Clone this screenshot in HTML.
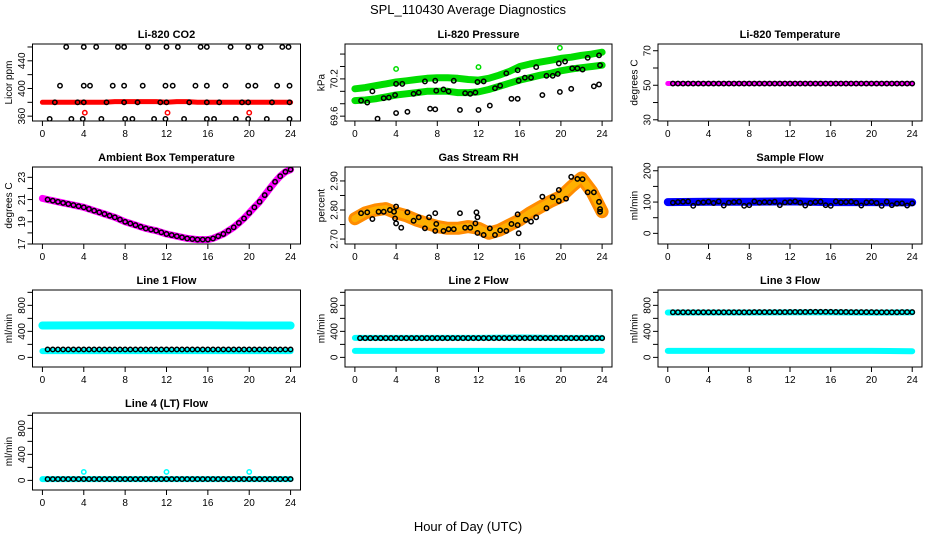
<!DOCTYPE html>
<html><head><meta charset="utf-8">
<style>
html,body{margin:0;padding:0;background:#fff;}
svg{display:block;font-family:"Liberation Sans",Arial,sans-serif;}
</style></head>
<body>
<svg id="chart" width="936" height="540" viewBox="0 0 936 540" xmlns="http://www.w3.org/2000/svg">
<rect x="0" y="0" width="936" height="540" fill="#fff"/>
<text x="468" y="14" text-anchor="middle" font-size="13">SPL_110430  Average Diagnostics</text>
<text x="468" y="531" text-anchor="middle" font-size="13">Hour of Day (UTC)</text>
</svg>
<script>
// ---------- data ----------
const xTicks=[0,4,8,12,16,20,24];
// CO2
const co2BandH=[0,1,2,3,4,5,6,7,8,9,10,11,12,13,14,15,16,17,18,19,20,21,22,23,24];
const co2BandV=[380,380,380,380,380,380,380,381,381,381,381,381,380,381,381,380,380,380,380,380,380,380,380,380,380];
const co2PtsH=[2.3,4.0,5.2,7.3,7.9,10.2,12.0,13.1,15.3,15.9,18.2,19.9,21.1,23.2,23.8,
 1.7,4.0,4.6,6.8,7.9,9.7,11.9,12.6,14.8,15.9,17.7,19.9,20.6,22.7,23.9,
 1.2,3.4,4.0,6.2,7.9,9.2,11.4,12.0,14.2,15.9,17.1,19.3,19.9,22.2,23.9,
 0.7,2.8,3.9,5.7,8.0,8.7,10.8,11.9,13.7,15.9,16.6,18.7,19.9,21.7,23.9];
const co2PtsV=[460,460,460,460,460,460,460,460,460,460,460,460,460,460,460,
 404,404,404,404,404,404,404,404,404,404,404,404,404,404,404,
 380,380,380,380,380,380,380,380,380,380,380,380,380,380,380,
 356,356,356,356,356,356,356,356,356,356,356,356,356,356,356];
const co2OutH=[4.1,12.1,20.0];
const co2OutV=[365,365,365];
// Pressure
const presBandH=[0,1,2,3,4,5,6,7,8,9,10,11,12,13,14,15,16,17,18,19,20,21,22,23,24];
const presUpper=[70.04,70.06,70.09,70.12,70.15,70.17,70.19,70.21,70.22,70.22,70.21,70.19,70.18,70.21,70.26,70.32,70.40,70.44,70.47,70.50,70.53,70.55,70.58,70.60,70.63];
const presLower=[69.85,69.86,69.88,69.91,69.94,69.96,69.98,70.00,70.00,70.00,69.98,69.98,69.99,70.03,70.08,70.13,70.18,70.22,70.26,70.29,70.33,70.36,70.38,70.40,70.42];
const presPtsH=[2.2,4.0,5.1,7.3,7.8,10.2,12.0,13.1,15.2,15.8,18.2,19.9,21.0,23.2,23.7,
 0.6,1.2,1.7,2.8,3.3,3.9,4.0,4.6,5.7,6.2,6.8,7.8,7.9,8.6,9.1,9.6,10.7,11.2,11.7,11.9,12.5,13.6,14.1,14.7,15.8,15.9,16.5,17.1,17.6,18.6,19.2,19.7,19.8,20.4,21.1,21.6,22.1,22.6,23.7,23.8];
const presPtsV=[69.56,69.65,69.67,69.72,69.71,69.70,69.70,69.77,69.88,69.88,69.94,69.99,70.04,70.08,70.11,
 69.85,69.82,70.00,69.89,69.90,69.94,70.12,70.12,69.96,69.98,70.16,70.17,70.01,70.03,70.00,70.17,69.97,69.96,69.98,70.15,70.16,70.05,70.09,70.29,70.34,70.17,70.22,70.22,70.39,70.25,70.25,70.28,70.45,70.48,70.37,70.37,70.35,70.54,70.58,70.42];
const presOutH=[4.0,12.0,19.9];
const presOutV=[70.36,70.39,70.70];
// Li-820 temperature
const tempBandH=[0,4,8,12,16,20,24];
const tempBandV=[51,51,51,51,51,51,51];
const tempPtsV=[51,51,51,51,51,51,51,51,51,51,51,51,51,51,51,51,51,51,51,51,51,51,51,51,51,51,51,51,51,51,51,51,51,51,51,51,51,51,51,51,51,51,51,51,51,51,51,51];
// Ambient box temperature
const ambV=[21.1,21.0,20.9,20.8,20.7,20.6,20.5,20.4,20.3,20.15,20.0,19.85,19.7,19.55,19.4,19.2,19.0,18.85,18.7,18.55,18.4,18.3,18.2,18.05,17.9,17.8,17.7,17.6,17.5,17.45,17.4,17.4,17.4,17.5,17.7,17.9,18.2,18.5,18.9,19.3,19.8,20.3,20.8,21.4,22.0,22.6,23.1,23.5,23.7];
// Gas stream RH
const rhBandH=[0,1,2,3,4,5,6,7,8,9,10,11,12,13,14,15,16,17,18,19,20,21,22,23,24];
const rhBandV=[2.77,2.79,2.80,2.805,2.79,2.78,2.765,2.754,2.743,2.737,2.737,2.743,2.737,2.72,2.73,2.748,2.766,2.79,2.81,2.83,2.846,2.88,2.91,2.863,2.794];
const rhPtsH=[0.6,1.2,1.7,2.3,2.8,3.4,3.8,4.0,3.9,4.0,4.5,5.1,5.7,6.2,6.8,7.2,7.8,7.9,7.8,8.6,9.1,9.6,10.2,10.7,11.2,11.7,11.8,11.9,11.9,12.5,13.1,13.6,14.1,14.7,15.2,15.8,15.8,15.9,16.6,17.1,17.6,18.2,18.6,19.2,19.8,19.8,20.5,21.0,21.6,22.1,22.6,23.2,23.7,23.8,23.8];
const rhPtsV=[2.789,2.792,2.769,2.794,2.794,2.80,2.794,2.812,2.771,2.754,2.739,2.792,2.763,2.775,2.737,2.775,2.789,2.752,2.728,2.728,2.734,2.734,2.789,2.739,2.739,2.754,2.792,2.775,2.721,2.714,2.737,2.714,2.730,2.728,2.752,2.785,2.748,2.720,2.766,2.760,2.775,2.846,2.806,2.844,2.869,2.831,2.839,2.914,2.907,2.906,2.861,2.861,2.828,2.803,2.794];
// Sample flow
const sfBandH=[0,4,8,12,16,20,24];
const sfBandV=[100,101,101,102,100,100,99];
const sfPtsV=[98,100,101,102,88,98,99,101,97,102,89,98,100,101,88,90,102,98,100,99,101,90,99,100,102,98,89,97,100,101,90,88,102,99,100,101,98,89,99,100,97,88,101,90,95,96,89,96];
// Line flows
const lfBandH=[0,4,8,12,16,20,24];
const l1Hi=[490,492,494,493,494,490,490];
const l1Lo=[97,97,97,97,97,97,97];
const l1Pts=[122,122,122,122,122,122,122,122,122,122,122,122,122,122,122,122,122,122,122,122,122,122,122,122,122,122,122,122,122,122,122,122,122,122,122,122,122,122,122,122,122,122,122,122,122,122,122,122];
const l2Lo=[100,100,100,100,100,100,100];
const l2Mid=[300,300,300,300,305,300,300];
const l2Pts=[296,296,296,296,296,296,296,296,296,296,296,296,296,296,296,296,296,296,296,296,296,296,296,296,296,296,296,296,296,296,296,296,296,296,296,296,296,296,296,296,296,296,296,296,296,296,296,296];
const l3Lo=[100,100,100,100,100,100,95];
const l3Hi=[690,690,690,692,692,688,692];
const l3Pts=[694,694,694,694,694,694,694,694,694,694,694,694,694,694,694,694,696,696,696,696,696,696,696,698,698,698,698,700,700,700,700,700,698,698,698,696,696,696,696,696,694,694,694,694,694,696,696,696];
const l4Lo=[20,20,20,20,20,20,20];
const l4Pts=[20,20,20,20,20,20,20,20,20,20,20,20,20,20,20,20,20,20,20,20,20,20,20,20,20,20,20,20,20,20,20,20,20,20,20,20,20,20,20,20,20,20,20,20,20,20,20,20];
const l4OutH=[4,12,20];
const l4OutV=[130,130,130];

// ---------- drawing ----------
const NS="http://www.w3.org/2000/svg";
const svg=document.getElementById('chart');
const colL=[32.5,345,658], colR=[300.5,612,922];
const rowT=[44,167,290,413], PH=77;
const halfH=[]; for(let i=1;i<=48;i++) halfH.push(i*0.5);
function mk(tag,attrs,parent){const e=document.createElementNS(NS,tag);for(const k in attrs)e.setAttribute(k,attrs[k]);(parent||svg).appendChild(e);return e;}

function panel(id,ci,ri,title,ylab,ylim,yticks,ylabels){
  const l=colL[ci],r=colR[ci],t=rowT[ri],b=t+PH;
  const g=mk('g',{});
  
  
  const sx=h=>l+(h+0.96)/25.92*(r-l);
  const sy=v=>b-(v-ylim[0])/(ylim[1]-ylim[0])*(b-t);
  const tt=mk('text',{x:(l+r)/2,y:t-6,'text-anchor':'middle','font-size':'11','font-weight':'bold'},g);
  tt.textContent=title;
  
  
  const yl=mk('text',{x:l-24,y:(t+b)/2,'text-anchor':'middle','font-size':'10',transform:`rotate(-90 ${l-24} ${(t+b)/2})`},g);
  yl.textContent=ylab; yl.setAttribute('dy','0.35em');
  
  
  const xa=mk('g',{stroke:'#000','stroke-width':'1'},g);
  
  
  xTicks.forEach(v=>{
    const x=sx(v);
    mk('line',{x1:x,x2:x,y1:b,y2:b+5},xa);
    const tx=mk('text',{x:x,y:b+16,'text-anchor':'middle','font-size':'10',stroke:'none'},g);
    tx.textContent=v;
    
    
  });
  mk('line',{x1:sx(0),x2:sx(24),y1:b,y2:b},xa);
  const ya=mk('g',{stroke:'#000','stroke-width':'1'},g);
  
  
  yticks.forEach(v=>{
    const y=sy(v);
    mk('line',{x1:l-5,x2:l,y1:y,y2:y},ya);
  });
  ylabels.forEach(v=>{
    const y=sy(v);
    const tx=mk('text',{x:l-11,y:y,'text-anchor':'middle','font-size':'10',transform:`rotate(-90 ${l-11} ${y})`},g);
    tx.textContent=v;
    tx.setAttribute('dy','0.35em');
    
    
  });
  const plot=mk('g',{},g);
  
  
  const clip=mk('clipPath',{id:'c'+id},g);
  mk('rect',{x:l,y:t,width:r-l,height:PH},clip);
  plot.setAttribute('clip-path',`url(#c${id})`);
  const box=mk('rect',{x:l,y:t,width:r-l,height:PH,fill:'none',stroke:'#000','stroke-width':'1'},g);
  
  
  return {sx,sy,plot};
}
function band(p,name,hs,vs,color,w){
  const pts=hs.map((h,i)=>p.sx(h).toFixed(1)+','+p.sy(vs[i]).toFixed(1)).join(' ');
  const pl=mk('polyline',{points:pts,fill:'none',stroke:color,'stroke-width':w,'stroke-linecap':'round','stroke-linejoin':'round'},p.plot);
  
  
}
function pts(p,name,hs,vs,color){
  const g=mk('g',{fill:'none',stroke:color,'stroke-width':'1.5'},p.plot);
  
  
  hs.forEach((h,i)=>{
    const c=mk('circle',{cx:p.sx(h),cy:p.sy(vs[i]),r:2.2},g);
    
    
  });
}

let p;
p=panel('co2',0,0,'Li-820 CO2','Licor ppm',[353,464.3],[360,380,400,420,440,460],[360,400,440]);
band(p,'co2-band',co2BandH,co2BandV,'#ff0000',5);
pts(p,'co2-points',co2PtsH,co2PtsV,'#000');
pts(p,'co2-outliers',co2OutH,co2OutV,'#ff0000');

p=panel('pressure',1,0,'Li-820 Pressure','kPa',[69.522,70.762],[69.6,69.8,70.0,70.2,70.4,70.6],[69.6,70.2]);
band(p,'pressure-upper-band',presBandH,presUpper,'#00dd00',7);
band(p,'pressure-lower-band',presBandH,presLower,'#00dd00',7);
pts(p,'pressure-points',presPtsH,presPtsV,'#000');
pts(p,'pressure-outliers',presOutH,presOutV,'#00dd00');

p=panel('li820temp',2,0,'Li-820 Temperature','degrees C',[29.3,73.9],[30,40,50,60,70],[30,50,70]);
band(p,'li820temp-band',tempBandH,tempBandV,'#ff00ff',5);
pts(p,'li820temp-points',halfH,tempPtsV,'#000');

p=panel('ambient',0,1,'Ambient Box Temperature','degrees C',[17.0,23.93],[17,18,19,20,21,22,23],[17,19,21,23]);
const fullH=[0].concat(halfH);
band(p,'ambient-band',fullH,ambV,'#ff00ff',7);
pts(p,'ambient-points',halfH,ambV.slice(1),'#000');

p=panel('rh',1,1,'Gas Stream RH','percent',[2.683,2.948],[2.70,2.75,2.80,2.85,2.90],['2.70','2.80','2.90']);
band(p,'rh-band-outer',rhBandH,rhBandV,'#ff8c00',13);
band(p,'rh-band-inner',rhBandH,rhBandV,'#ffb000',7);
pts(p,'rh-points',rhPtsH,rhPtsV,'#000');

p=panel('sampleflow',2,1,'Sample Flow','ml/min',[-34,212],[0,50,100,150,200],[0,100,200]);
band(p,'sampleflow-band',sfBandH,sfBandV,'#0000ff',8);
pts(p,'sampleflow-points',halfH,sfPtsV,'#000');

p=panel('line1',0,2,'Line 1 Flow','ml/min',[-148,1036],[0,200,400,600,800,1000],[0,400,800]);
band(p,'line1-high-band',lfBandH,l1Hi,'#00ffff',8);
band(p,'line1-low-band',lfBandH,l1Lo,'#00ffff',6);
pts(p,'line1-points',halfH,l1Pts,'#000');

p=panel('line2',1,2,'Line 2 Flow','ml/min',[-148,1036],[0,200,400,600,800,1000],[0,400,800]);
band(p,'line2-mid-band',lfBandH,l2Mid,'#00ffff',6);
band(p,'line2-low-band',lfBandH,l2Lo,'#00ffff',6);
pts(p,'line2-points',halfH,l2Pts,'#000');

p=panel('line3',2,2,'Line 3 Flow','ml/min',[-148,1036],[0,200,400,600,800,1000],[0,400,800]);
band(p,'line3-high-band',lfBandH,l3Hi,'#00ffff',6);
band(p,'line3-low-band',lfBandH,l3Lo,'#00ffff',6);
pts(p,'line3-points',halfH,l3Pts,'#000');

p=panel('line4',0,3,'Line 4 (LT) Flow','ml/min',[-148,1036],[0,200,400,600,800,1000],[0,400,800]);
band(p,'line4-band',lfBandH,l4Lo,'#00ffff',6);
pts(p,'line4-points',halfH,l4Pts,'#000');
pts(p,'line4-outliers',l4OutH,l4OutV,'#00ffff');
</script>
</body></html>
